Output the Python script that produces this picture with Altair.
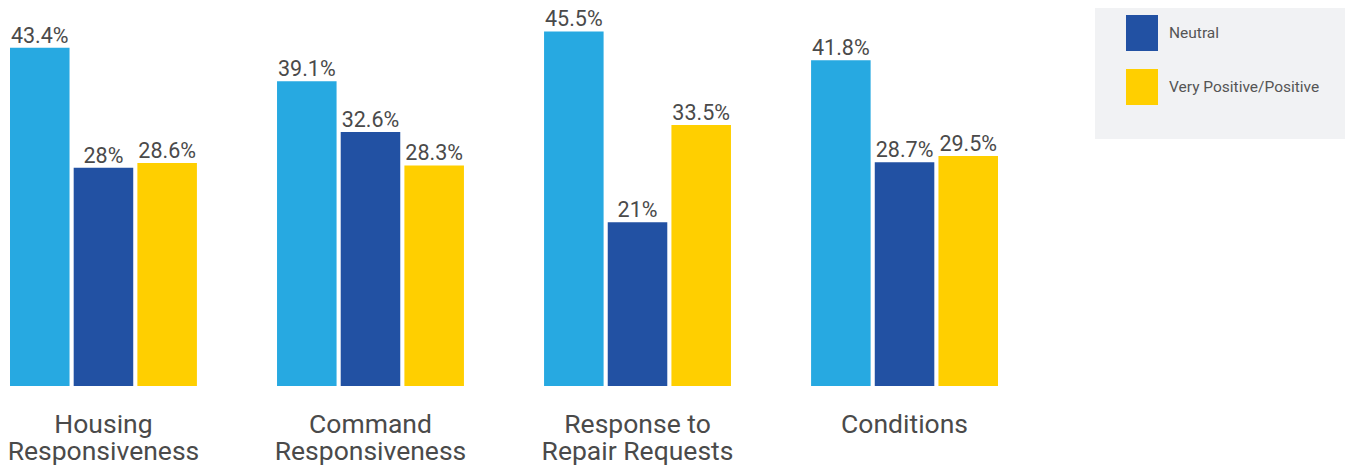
import altair as alt
import pandas as pd

categories = ["Housing Responsiveness", "Command Responsiveness",
              "Response to Repair Requests", "Conditions"]
series = ["Very Negative/Negative", "Neutral", "Very Positive/Positive"]
negative = [43.4, 39.1, 45.5, 41.8]
neutral = [28.0, 32.6, 21.0, 28.7]
positive = [28.6, 28.3, 33.5, 29.5]
label_lines = {
    "Housing Responsiveness": ["Housing", "Responsiveness"],
    "Command Responsiveness": ["Command", "Responsiveness"],
    "Response to Repair Requests": ["Response to", "Repair Requests"],
    "Conditions": ["Conditions"],
}
colors = ["#27A9E1", "#2251A3", "#FFCF00"]
legend_shown = ["Neutral", "Very Positive/Positive"]

rows = []
for s, vals in zip(series, [negative, neutral, positive]):
    for c, v in zip(categories, vals):
        rows.append({"category": c, "series": s, "value": v, "label": f"{v:g}%"})
df = pd.DataFrame(rows)

label_expr = " : ".join(
    [f"datum.label == '{k}' ? {v!r}" for k, v in label_lines.items()] + ["datum.label"]
)

FONT = "Roboto"
x = alt.X("category:N", sort=categories, title=None,
          scale=alt.Scale(paddingInner=0.3, paddingOuter=0),
          axis=alt.Axis(labelAngle=0, domain=False, ticks=False, grid=False,
                        labelFontSize=26.5, labelColor="#4a4a4a", labelFont=FONT,
                        labelLineHeight=27.5, labelPadding=25, labelBaseline="top",
                        labelLimit=0, labelExpr=label_expr))
xo = alt.XOffset("series:N", sort=series,
                 scale=alt.Scale(paddingInner=0.065, paddingOuter=0))
y = alt.Y("value:Q", axis=None, scale=alt.Scale(domain=[0, 48.5], nice=False))

base = alt.Chart(df)
bars = base.mark_bar().encode(
    x=x, xOffset=xo, y=y,
    color=alt.Color("series:N", sort=series,
                    scale=alt.Scale(domain=series, range=colors),
                    legend=alt.Legend(values=legend_shown, title=None,
                                      orient="none", legendX=1085, legendY=-27,
                                      fillColor="#F1F2F4", padding=34,
                                      symbolType="M-0.889,-1H0.889V1H-0.889Z",
                                      symbolSize=1296, symbolStrokeWidth=0,
                                      symbolOpacity=1, symbolOffset=-5,
                                      labelFontSize=15.5, labelFont=FONT,
                                      labelColor="#555555", labelOffset=9,
                                      rowPadding=18)),
)
texts = base.mark_text(baseline="alphabetic", dy=-5, fontSize=21.5, font=FONT,
                       color="#4a4a4a").encode(
    x=x, xOffset=xo, y=y, text="label:N")

chart = alt.layer(bars, texts).properties(
    width=988, height=378,
    autosize=alt.AutoSizeParams(type="none"),
    padding={"left": 2, "top": 0, "right": 347, "bottom": 79},
).configure_view(stroke=None)

chart.save("out.html", embed_options={"renderer": "svg", "actions": False})
